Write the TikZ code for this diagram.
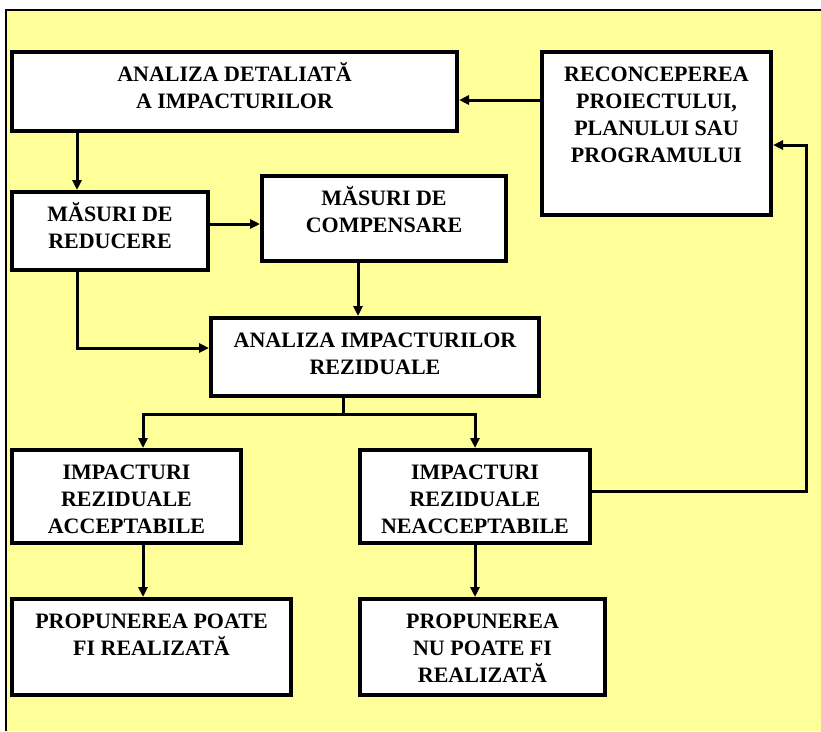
\documentclass[tikz,border=0pt]{standalone}
\usepackage{fontspec}
\setmainfont{Liberation Serif}
\usetikzlibrary{arrows.meta}
\definecolor{bg}{HTML}{FFFF99}
\newcommand{\fl}{\rule{0pt}{20pt}}
\tikzset{
  box/.style={draw=black, line width=4pt, fill=white, inner sep=0pt},
  conn/.style={line width=3pt, -{Triangle[length=10pt,width=9pt]}},
  plainline/.style={line width=3pt},
  txt/.style={font=\bfseries\fontsize{22}{27}\selectfont, align=center, inner sep=0pt, anchor=north, yshift=-11pt}
}
\begin{document}
\begin{tikzpicture}[x=1pt,y=-1pt]
\useasboundingbox (0,0) rectangle (821,731);
\fill[bg] (6,10) rectangle (821,731);
\draw[line width=1.5pt] (6,731) -- (6,10) -- (821,10);

% boxes
\node[box, minimum width=445, minimum height=79] (b1) at (234.5,91.5) {};
\node[box, minimum width=229, minimum height=163] (rc) at (656.5,133.5) {};
\node[box, minimum width=196, minimum height=78] (rd) at (110,231) {};
\node[box, minimum width=244, minimum height=85] (cp) at (384,218.5) {};
\node[box, minimum width=328, minimum height=78] (ar) at (375,357) {};
\node[box, minimum width=229, minimum height=93] (ia) at (126.5,496.5) {};
\node[box, minimum width=230, minimum height=93] (in) at (475,496.5) {};
\node[box, minimum width=279, minimum height=96] (pp) at (151.5,647) {};
\node[box, minimum width=245, minimum height=96] (pn) at (482.5,647) {};

% texts
\node[txt] (t1) at (b1.north) {\fl ANALIZA DETALIATĂ\\A IMPACTURILOR};
\node[txt] (t2) at (rc.north) {\fl RECONCEPEREA\\PROIECTULUI,\\PLANULUI SAU\\PROGRAMULUI};
\node[txt] (t3) at (rd.north) {\fl MĂSURI DE\\REDUCERE};
\node[txt] (t4) at (cp.north) {\fl MĂSURI DE\\COMPENSARE};
\node[txt] (t5) at (ar.north) {\fl ANALIZA IMPACTURILOR\\REZIDUALE};
\node[txt] (t6) at (ia.north) {\fl IMPACTURI\\REZIDUALE\\ACCEPTABILE};
\node[txt] (t7) at (in.north) {\fl IMPACTURI\\REZIDUALE\\NEACCEPTABILE};
\node[txt] (t8) at (pp.north) {\fl PROPUNEREA POATE\\FI REALIZATĂ};
\node[txt] (t9) at (pn.north) {\fl PROPUNEREA\\NU POATE FI\\REALIZATĂ};

% helper coordinates
\coordinate (xa) at (77,0);
\coordinate (ya) at (0,224);
\coordinate (xb) at (358,0);
\coordinate (yb) at (0,348);
\coordinate (split) at (343,414);
\coordinate (xc) at (143,0);
\coordinate (yc) at (0,491);
\coordinate (fb) at (806,145);
\coordinate (yd) at (0,100);

% connectors
\draw[conn] (xa |- b1.south) -- (xa |- rd.north);
\draw[conn] (rd.east |- ya) -- (cp.west |- ya);
\draw[conn] (xb |- cp.south) -- (xb |- ar.north);
\draw[conn] (xa |- rd.south) |- (ar.west |- yb);
\draw[plainline] (split |- ar.south) -- (split);
\draw[conn] ([xshift=1.5pt]split) -| (xc |- ia.north);
\draw[conn] ([xshift=-1.5pt]split) -| (in.north);
\draw[conn] (xc |- ia.south) -- (xc |- pp.north);
\draw[conn] (in.south) -- (in.south |- pn.north);
\draw[conn] (in.east |- yc) -| (fb) -- (rc.east |- fb);
\draw[conn] (rc.west |- yd) -- (b1.east |- yd);
\end{tikzpicture}
\end{document}
